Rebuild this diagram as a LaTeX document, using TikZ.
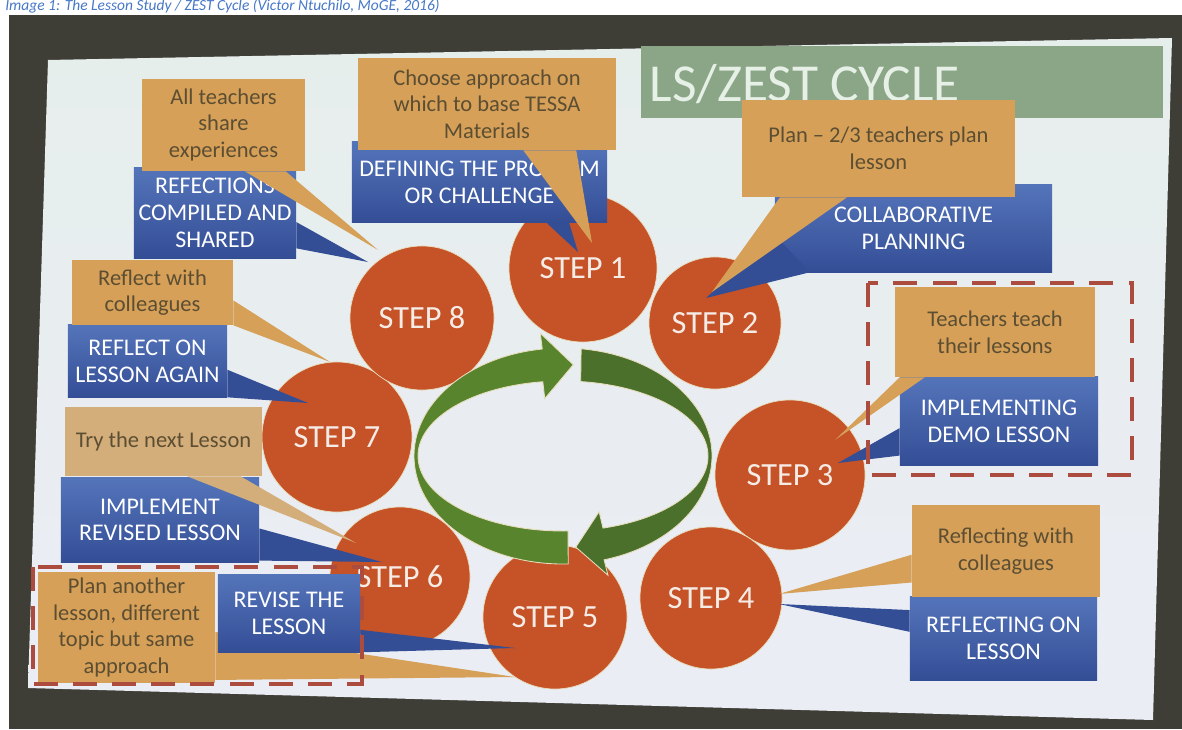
\documentclass[tikz,border=0pt]{standalone}
\usepackage{fontspec}
\setmainfont{Carlito}
\usetikzlibrary{positioning,calc}

\definecolor{framegray}{RGB}{62,61,54}
\definecolor{slidetop}{RGB}{230,238,236}
\definecolor{slidemid}{RGB}{244,232,232}
\definecolor{slidebot}{RGB}{235,237,245}
\definecolor{titlegreen}{RGB}{138,166,134}
\definecolor{titletext}{RGB}{230,240,230}
\definecolor{stepred}{RGB}{198,82,40}
\definecolor{steptext}{RGB}{246,236,230}
\definecolor{ringgreen}{RGB}{88,132,46}
\definecolor{ringdark}{RGB}{74,112,44}
\definecolor{ringedge}{RGB}{232,222,188}
\definecolor{lessonblue}{RGB}{52,78,150}
\definecolor{lessontop}{RGB}{84,116,186}
\definecolor{notetan}{RGB}{214,160,88}
\definecolor{notebeige}{RGB}{212,174,122}
\definecolor{notetext}{RGB}{92,78,50}
\definecolor{dashred}{RGB}{172,76,62}
\definecolor{capblue}{RGB}{70,120,200}

\begin{document}
\begin{tikzpicture}[x=0.025cm,y=-0.025cm]
	\tikzstyle{stepnode}=[circle, fill=stepred, draw=ringedge, line width=0.5pt, text=steptext, font=\fontsize{23}{25}\selectfont]
	\tikzstyle{lessonbox}=[rectangle, top color=lessontop, bottom color=lessonblue, text=white, align=center, inner sep=0pt, font=\fontsize{17}{19}\selectfont]
	\tikzstyle{notebox}=[rectangle, fill=notetan, text=notetext, align=center, inner sep=0pt, font=\fontsize{16}{19}\selectfont]
	\tikzstyle{bluewedge}=[fill=lessonblue]
	\tikzstyle{tanwedge}=[fill=notetan]
	\tikzstyle{boxline}=[draw=dashred, line width=2.8pt, dash pattern=on 0.6cm off 0.38cm]
	\tikzstyle{ringpart}=[draw=ringedge, line width=0.6pt]
		% photo frame and slide
		\path[use as bounding box, fill=white] (0,0) rectangle (1182,729);
		\fill[framegray] (9,15) rectangle (1182,729);
		\shade[top color=slidetop, middle color=slidemid, bottom color=slidebot] (48,60) -- (1172,38) -- (1153,720) -- (28,688) -- cycle;
		\node[anchor=base west, inner sep=0pt, text=capblue, font=\fontsize{11}{12}\selectfont\itshape] (caption) at (5,11) {Image 1: The Lesson Study / ZEST Cycle (Victor Ntuchilo, MoGE, 2016)};
		\node[fill=titlegreen, minimum width=13.05cm, minimum height=1.8cm, inner sep=0pt] (titlebar) at (902,82) {};
		\node[anchor=west, inner sep=0pt, text=titletext, font=\fontsize{38}{40}\selectfont] (title) at ([xshift=0.22cm,yshift=-0.05cm]titlebar.west) {LS/ZEST CYCLE};
		% steps
		\node[stepnode, minimum size=3.7cm] (s1) at (583,268) {STEP 1};
		\node[stepnode, minimum size=3.3cm] (s2) at (715,323) {STEP 2};
		\node[stepnode, minimum size=3.75cm] (s3) at (790,475) {STEP 3};
		\node[stepnode, minimum size=3.55cm] (s4) at (711,598) {STEP 4};
		\node[stepnode, minimum size=3.6cm] (s5) at (555,617) {STEP 5};
		\node[stepnode, minimum size=3.5cm] (s6) at (400,577) {STEP 6};
		\node[stepnode, minimum size=3.75cm] (s7) at (337,437) {STEP 7};
		\node[stepnode, minimum size=3.6cm] (s8) at (422,318) {STEP 8};
		% cycle arrows
		\begin{scope}[shift={(563,456)}, yscale=-1]
			\fill[ringgreen, ringpart] (272:149 and 108) arc[start angle=272, end angle=98, x radius=149, y radius=108] -- (98:163 and 124) -- (86:147 and 91.5) -- (98:131 and 58) -- (98:145 and 75) arc[start angle=98, end angle=272, x radius=145, y radius=75] -- cycle;
			\fill[ringdark, ringpart] (83:149 and 108) arc[start angle=83, end angle=-74, x radius=149, y radius=108] -- (-74:163 and 124) -- (-85:147 and 91.5) -- (-74:131 and 58) -- (-74:145 and 75) arc[start angle=-74, end angle=83, x radius=145, y radius=75] -- cycle;
		\end{scope}
		% step 1
		\node[lessonbox, minimum width=6.375cm, minimum height=2cm] (l1) at (479.5,182) {DEFINING THE PROBLEM\\OR CHALLENGE};
		\coordinate (t1l) at (578,252);
			\fill[bluewedge] ($(l1.south west)!0.76!(l1.south east)$) -- (t1l) -- ($(l1.south west)!0.85!(l1.south east)$) -- cycle;
		\node[notebox, minimum width=6.45cm, minimum height=2.3cm] (n1) at (487,104) {Choose approach on\\which to base TESSA\\Materials};
		\coordinate (t1n) at (592,243);
			\fill[tanwedge] ($(n1.south west)!0.64!(n1.south east)$) -- (t1n) -- ($(n1.south west)!0.845!(n1.south east)$) -- cycle;
		% step 2
		\node[lessonbox, minimum width=6.925cm, minimum height=2.175cm] (l2) at (913.5,228.5) {COLLABORATIVE\\PLANNING};
		\coordinate (t2l) at (706,298);
			\fill[bluewedge] ($(l2.north west)!0.57!(l2.south west)$) -- (t2l) -- ($(l2.south west)!0.126!(l2.south east)$) -- cycle;
		\node[notebox, minimum width=6.825cm, minimum height=2.425cm] (n2) at (878.5,148.5) {Plan – 2/3 teachers plan\\lesson};
		\coordinate (t2n) at (712,292);
			\fill[tanwedge] ($(n2.south west)!0.14!(n2.south east)$) -- (t2n) -- ($(n2.south west)!0.385!(n2.south east)$) -- cycle;
		% step 3
		\node[lessonbox, minimum width=4.95cm, minimum height=2.2cm] (l3) at (999,421) {IMPLEMENTING\\DEMO LESSON};
		\coordinate (t3l) at (838,463);
			\fill[bluewedge] ($(l3.north west)!0.58!(l3.south west)$) -- (t3l) -- ($(l3.north west)!0.89!(l3.south west)$) -- cycle;
		\node[notebox, minimum width=5cm, minimum height=2.25cm] (n3) at (995,332) {Teachers teach\\their lessons};
		\coordinate (t3n) at (835,440);
			\fill[tanwedge] ($(n3.south west)!0.025!(n3.south east)$) -- (t3n) -- ($(n3.south west)!0.15!(n3.south east)$) -- cycle;
		% step 4
		\node[lessonbox, minimum width=4.675cm, minimum height=2.075cm] (l4) at (1003.5,638.5) {REFLECTING ON\\LESSON};
		\coordinate (t4l) at (779,604);
			\fill[bluewedge] ($(l4.north west)!0.16!(l4.south west)$) -- (t4l) -- ($(l4.north west)!0.42!(l4.south west)$) -- cycle;
		\node[notebox, minimum width=4.7cm, minimum height=2.3cm] (n4) at (1006,551) {Reflecting with\\colleagues};
		\coordinate (t4n) at (779,594);
			\fill[tanwedge] ($(n4.north west)!0.54!(n4.south west)$) -- (t4n) -- ($(n4.north west)!0.84!(n4.south west)$) -- cycle;
		% step 5
		\node[notebox, minimum width=4.425cm, minimum height=2.775cm] (n5) at (126.5,627.5) {Plan another\\lesson, different\\topic but same\\approach};
		\coordinate (t5n) at (515,677);
			\fill[tanwedge] ($(n5.north east)!0.54!(n5.south east)$) -- (t5n) -- ($(n5.north east)!0.97!(n5.south east)$) -- cycle;
		\node[lessonbox, minimum width=3.55cm, minimum height=1.925cm] (l5) at (289,613.5) {REVISE THE\\LESSON};
		\coordinate (t5l) at (515,648);
			\fill[bluewedge] ($(l5.north east)!0.71!(l5.south east)$) -- (t5l) -- (l5.south east) -- cycle;
		% step 6
		\node[lessonbox, minimum width=4.95cm, minimum height=2.1cm] (l6) at (160,520) {IMPLEMENT\\REVISED LESSON};
		\coordinate (t6l) at (382,562);
			\fill[bluewedge] ($(l6.north east)!0.6!(l6.south east)$) -- (t6l) -- ($(l6.north east)!0.98!(l6.south east)$) -- cycle;
		\node[notebox, fill=notebeige, minimum width=4.925cm, minimum height=1.725cm] (n6) at (163.5,441.5) {Try the next Lesson};
		\coordinate (t6n) at (356,543);
			\fill[tanwedge, fill=notebeige] ($(n6.south west)!0.62!(n6.south east)$) -- (t6n) -- ($(n6.south west)!0.89!(n6.south east)$) -- cycle;
		% step 7
		\node[lessonbox, minimum width=3.975cm, minimum height=1.8cm] (l7) at (147.5,361) {REFLECT ON\\LESSON AGAIN};
		\coordinate (t7l) at (308,403);
			\fill[bluewedge] ($(l7.north east)!0.62!(l7.south east)$) -- (t7l) -- (l7.south east) -- cycle;
		\node[notebox, minimum width=4.025cm, minimum height=1.625cm] (n7) at (152.5,292.5) {Reflect with\\colleagues};
		\coordinate (t7n) at (330,362);
			\fill[tanwedge] ($(n7.north east)!0.62!(n7.south east)$) -- (t7n) -- (n7.south east) -- cycle;
		% step 8
		\node[lessonbox, minimum width=4.05cm, minimum height=2.25cm] (l8) at (215,213) {REFECTIONS\\COMPILED AND\\SHARED};
		\coordinate (t8l) at (368,262);
			\fill[bluewedge] ($(l8.north east)!0.6!(l8.south east)$) -- (t8l) -- ($(l8.north east)!0.89!(l8.south east)$) -- cycle;
		\node[notebox, minimum width=4.075cm, minimum height=2.3cm] (n8) at (223.5,125) {All teachers\\share\\experiences};
		\coordinate (t8n) at (378,250);
			\fill[tanwedge] ($(n8.south west)!0.63!(n8.south east)$) -- (t8n) -- ($(n8.south west)!0.88!(n8.south east)$) -- cycle;
		% dashed groups
		\draw[boxline] (868,283) rectangle (1132,475);
		\draw[boxline] (33,567) rectangle (362,684);
\end{tikzpicture}
\end{document}
